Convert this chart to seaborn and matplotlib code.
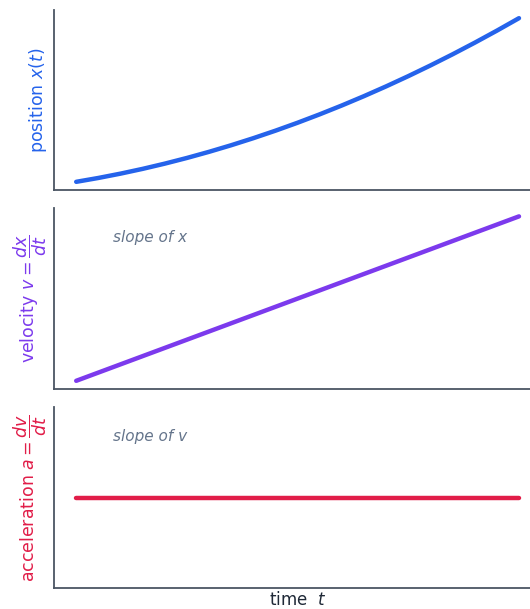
import numpy as np
import matplotlib
matplotlib.use("Agg")
import matplotlib.pyplot as plt
import pandas as pd
import seaborn as sns

# Data
time = [0, 0.5, 1, 1.5, 2, 2.5, 3, 3.5, 4, 4.5, 5, 5.5, 6, 6.5, 7, 7.5, 8, 8.5, 9, 9.5, 10]
position = [0, 0.53125, 1.125, 1.78125, 2.5, 3.28125, 4.125, 5.03125, 6.0, 7.03125,
            8.125, 9.28125, 10.5, 11.78125, 13.125, 14.53125, 16.0, 17.53125,
            19.125, 20.78125, 22.5]
velocity = [1.0, 1.125, 1.25, 1.375, 1.5, 1.625, 1.75, 1.875, 2.0, 2.125, 2.25,
            2.375, 2.5, 2.625, 2.75, 2.875, 3.0, 3.125, 3.25, 3.375, 3.5]
acceleration = [0.25] * 21

df = pd.DataFrame({"t": time, "x": position, "v": velocity, "a": acceleration})

sns.set_style("white")
plt.rcParams["font.family"] = ["DejaVu Sans"]

BLUE = "#2563EB"
PURPLE = "#7C3AED"
RED = "#E11D48"
SLATE = "#64748B"
SPINE = "#4B5563"

fig = plt.figure(figsize=(5.3, 6.09), dpi=100)
# axes run a little past the right edge of the figure, like the reference
left, width = 0.102, 0.919
ax1 = fig.add_axes([left, 0.688, width, 0.2956])
ax2 = fig.add_axes([left, 0.3612, width, 0.297])
ax3 = fig.add_axes([left, 0.0345, width, 0.297])

sns.lineplot(data=df, x="t", y="x", ax=ax1, color=BLUE, lw=3.2)
sns.lineplot(data=df, x="t", y="v", ax=ax2, color=PURPLE, lw=3.2)
sns.lineplot(data=df, x="t", y="a", ax=ax3, color=RED, lw=3.2)
ax3.set_ylim(0, 0.5)

labels = [("position $x(t)$", BLUE),
          ("velocity $v = \\dfrac{dx}{dt}$", PURPLE),
          ("acceleration $a = \\dfrac{dv}{dt}$", RED)]
for ax, (lab, col) in zip([ax1, ax2, ax3], labels):
    ax.set_xticks([])
    ax.set_yticks([])
    ax.set_xlabel("")
    ax.set_ylabel(lab, color=col, fontsize=12.5)
    for s in ["top", "right"]:
        ax.spines[s].set_visible(False)
    for s in ["left", "bottom"]:
        ax.spines[s].set_color(SPINE)
        ax.spines[s].set_linewidth(1.3)

ax2.text(0.12, 0.84, "slope of x", transform=ax2.transAxes, color=SLATE,
         fontsize=11, style="italic", va="center")
ax3.text(0.12, 0.84, "slope of v", transform=ax3.transAxes, color=SLATE,
         fontsize=11, style="italic", va="center")

ax3.set_xlabel("time  $t$", fontsize=12, color="#1F2937", labelpad=2)

fig.savefig("out.png", dpi=100)
